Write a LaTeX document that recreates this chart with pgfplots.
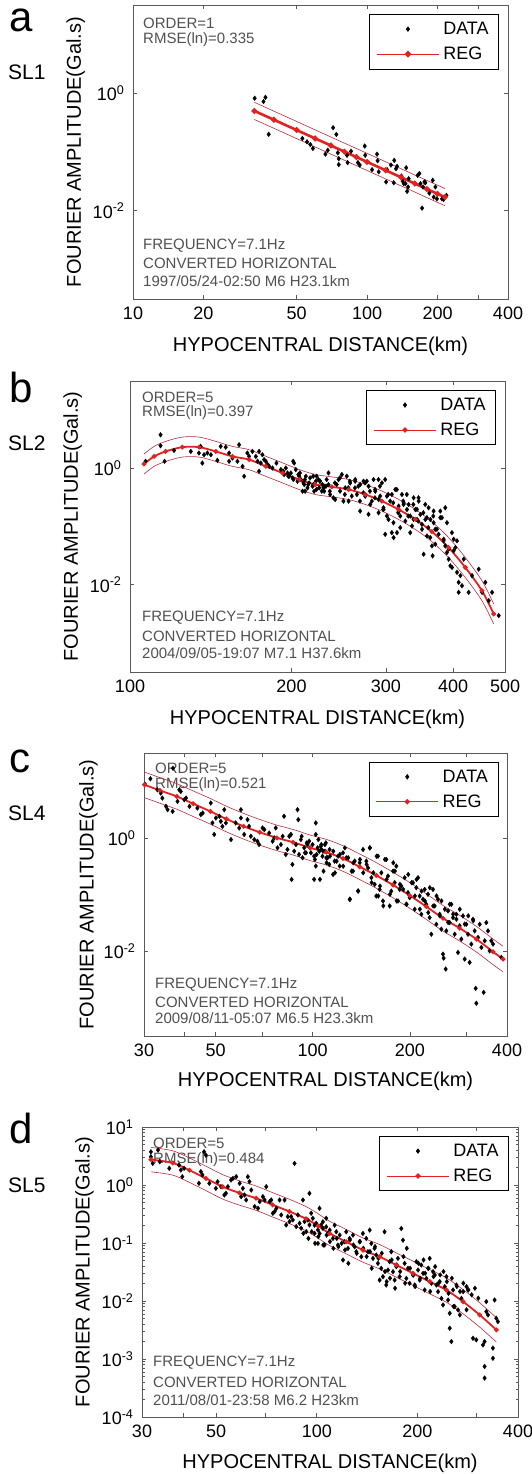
\documentclass[border=0pt]{standalone}
\usepackage{fontspec}
\setmainfont{Liberation Sans}
\usepackage{pgfplots}
\pgfplotsset{compat=1.18}
\definecolor{regred}{RGB}{228,32,32}
\definecolor{bandred}{RGB}{185,45,60}
\definecolor{annot}{RGB}{80,80,80}
\definecolor{axgray}{RGB}{90,90,90}
\tikzset{anot/.style={font=\fontsize{15}{15}\selectfont, text=annot, inner sep=0pt, anchor=west}}
\pgfplotsset{
  every axis/.append style={
    scale only axis,
    axis line style={axgray, line width=0.8pt},
    tick style={axgray, line width=0.7pt},
    tick align=inside, major tick length=4pt, minor tick length=2.5pt,
    tick label style={font=\fontsize{18}{18}\selectfont},
    xticklabel style={yshift=-4pt},
    yticklabel style={xshift=-5pt},
    label style={font=\fontsize{20}{22}\selectfont},
    xlabel style={at={(axis description cs:0.5,-0.161)}, anchor=center},
    ylabel style={at={(axis description cs:-0.153,0.5)}, anchor=center},
    legend cell align=left,
    legend style={at={(0.976,0.969)}, anchor=north east,
      font=\fontsize{18}{18}\selectfont, draw=black, line width=0.7pt,
      inner xsep=7pt, inner ysep=4.5pt, row sep=4.5pt, column sep=1pt,
      nodes={inner sep=3pt, text depth=0.2em}},
  },
  mydata/.style={only marks, mark=diamond*, mark size=2.4pt, black, mark options={fill=black, line width=0.3pt},
    legend image code/.code={\fill[black] (31pt,2.2pt) -- (32.6pt,0pt) -- (31pt,-2.2pt) -- (29.4pt,0pt) -- cycle;}},
  myreg/.style={regred, line width=1.8pt, mark=*, mark size=1.4pt, mark options={fill=regred, draw=regred},
    legend image code/.code={\draw[regred, line width=0.7pt] (0pt,0pt) -- (62pt,0pt); \fill[regred] (31pt,0pt) circle (1.6pt);}},
  myband/.style={bandred, line width=0.6pt, forget plot},
}
\begin{document}
\begin{tikzpicture}
\useasboundingbox (0,0) rectangle (531pt,-1474pt);
% ---------------- panel a ----------------
\node[anchor=base west, inner sep=0pt, font=\fontsize{42}{42}\selectfont] at (9pt,-32pt) {a};
\node[anchor=base west, inner sep=0pt, font=\fontsize{21}{21}\selectfont] at (8pt,-80pt) {SL1};
\node[anot] at (143pt,-23pt) {ORDER=1};
\node[anot] at (143pt,-40pt) {RMSE(ln)=0.335};
\node[anot] at (143pt,-246pt) {FREQUENCY=7.1Hz};
\node[anot] at (143pt,-263pt) {CONVERTED HORIZONTAL};
\node[anot] at (143pt,-281pt) {1997/05/24-02:50 M6 H23.1km};
\begin{axis}[xmode=log, ymode=log, at={(133pt,-299pt)}, anchor=south west, width=375pt, height=294pt,
  xlabel={HYPOCENTRAL DISTANCE(km)}, ylabel={FOURIER AMPLITUDE(Gal.s)},
  xmin=10, xmax=400, ymin=3.162e-4, ymax=31.62,
  xtick={10,20,50,100,200,300,400}, xticklabels={10,20,50,100,200,,400}, minor xtick={},
  ytick={0.01,1}, yticklabels={10\textsuperscript{-2},10\textsuperscript{0}}, minor ytick={}]
\addplot[mydata] coordinates {(33.1,0.82) (36.1,0.72) (36.8,0.85) (38.0,0.20) (52.9,0.170) (55.4,0.149) (57.2,0.134) (58.7,0.115) (66.4,0.092) (67.9,0.107) (71.6,0.259) (73.9,0.199) (75.0,0.097) (75.7,0.077) (75.7,0.061) (82.1,0.088) (82.6,0.066) (85.4,0.103) (91.4,0.066) (93.0,0.060) (97.7,0.126) (98.2,0.088) (105.0,0.050) (110.3,0.092) (110.9,0.071) (112.1,0.046) (120.6,0.031) (121.7,0.050) (126.5,0.060) (130.0,0.030) (130.6,0.072) (132.9,0.052) (134.3,0.057) (140.2,0.039) (141.9,0.032) (143.5,0.029) (145.9,0.029) (146.9,0.054) (148.3,0.0214) (149.7,0.0254) (150.6,0.0352) (164.5,0.040) (167.3,0.043) (169.0,0.029) (171.8,0.0111) (173.4,0.0254) (175.8,0.031) (177.4,0.030) (184.5,0.020) (190.8,0.033) (192.6,0.0171) (195.8,0.0254) (198.9,0.0160) (209.0,0.0160) (212.3,0.0156) (218.2,0.0183)};
\addlegendentry{DATA}
\addplot[myband] coordinates {(33,0.700) (40,0.494) (50,0.331) (60,0.238) (70,0.180) (80,0.1416) (90,0.1146) (100,0.0948) (120,0.0682) (140,0.0517) (160,0.0406) (180,0.0329) (200,0.0272) (215,0.0239)};
\addplot[myband] coordinates {(33,0.357) (40,0.253) (50,0.169) (60,0.122) (70,0.0922) (80,0.0725) (90,0.0586) (100,0.0484) (120,0.0349) (140,0.0264) (160,0.0208) (180,0.0168) (200,0.0139) (215,0.0122)};
\addplot[myreg, line width=2.6pt] coordinates {(33,0.500) (40,0.353) (50,0.236) (60,0.170) (70,0.129) (80,0.1014) (90,0.0820) (100,0.0678) (120,0.0488) (140,0.0370) (160,0.0290) (180,0.0235) (200,0.0194) (215,0.0171)};
\addlegendentry{REG}
\end{axis}
% ---------------- panel b ----------------
\node[anchor=base west, inner sep=0pt, font=\fontsize{42}{42}\selectfont] at (9pt,-402pt) {b};
\node[anchor=base west, inner sep=0pt, font=\fontsize{21}{21}\selectfont] at (8pt,-450pt) {SL2};
\node[anot] at (142pt,-397pt) {ORDER=5};
\node[anot] at (142pt,-413pt) {RMSE(ln)=0.397};
\node[anot] at (142pt,-618pt) {FREQUENCY=7.1Hz};
\node[anot] at (142pt,-636pt) {CONVERTED HORIZONTAL};
\node[anot] at (142pt,-653pt) {2004/09/05-19:07 M7.1 H37.6km};
\begin{axis}[xmode=log, ymode=log, at={(130pt,-672pt)}, anchor=south west, width=375pt, height=291pt,
  xlabel={HYPOCENTRAL DISTANCE(km)}, ylabel={FOURIER AMPLITUDE(Gal.s)},
  xmin=100, xmax=500, ymin=3.162e-4, ymax=31.62,
  xtick={100,200,300,400,500}, xticklabels={100,200,300,400,500}, minor xtick={},
  ytick={0.01,1}, yticklabels={10\textsuperscript{-2},10\textsuperscript{0}}, minor ytick={}]
\addplot[mydata] coordinates {(114.0,3.76) (114.0,2.44) (106.9,1.32) (116.0,1.32) (120.8,2.03) (129.8,1.95) (135.4,2.38) (134.4,1.83) (136.4,1.23) (137.4,1.71) (139.4,1.83) (141.5,1.71) (145.5,1.37) (147.6,2.38) (150.8,2.31) (153.0,1.83) (153.0,1.32) (155.2,1.50) (159.7,2.54) (158.6,1.32) (162.1,1.08) (163.2,0.73) (165.5,1.83) (166.7,1.60) (169.1,1.95) (171.6,1.60) (172.9,1.32) (174.0,1.95) (175.3,1.23) (176.5,1.71) (177.8,1.41) (179.1,1.32) (180.5,1.16) (174.0,0.89) (181.8,1.08) (184.3,1.01) (187.5,1.23) (191.1,0.95) (192.5,0.89) (193.8,0.78) (195.2,1.01) (196.6,0.83) (198.0,0.73) (199.4,0.83) (200.9,0.684) (202.3,1.23) (203.7,0.95) (205.2,0.60) (206.7,0.73) (208.2,0.64) (209.7,0.404) (211.2,0.526) (212.7,0.73) (214.2,0.461) (215.7,0.561) (218.9,0.492) (220.4,0.404) (222.0,0.60) (225.2,0.461) (228.4,0.526) (230.1,0.404) (231.8,0.492)
(224.5,0.640) (227.8,0.404) (234.4,0.526) (234.4,0.832) (241.2,0.291) (244.7,0.640) (248.2,0.780) (251.9,0.461) (255.5,0.273) (257.3,0.561) (262.9,0.640) (264.8,0.355) (268.6,0.526) (272.4,0.600) (274.4,0.332) (278.4,0.492) (280.4,0.239) (284.4,0.640) (286.5,0.404) (290.6,0.291) (290.6,0.172) (294.8,0.561) (296.8,0.196) (299.0,0.0734) (301.2,0.332) (303.3,0.132) (307.7,0.355) (310.0,0.0644) (312.2,0.432) (314.5,0.0785) (316.7,0.224) (319.0,0.151) (321.3,0.355) (323.6,0.255) (326.0,0.124) (328.3,0.196) (330.7,0.239) (333.0,0.151) (335.5,0.102) (337.8,0.311) (340.3,0.196) (342.7,0.132) (345.2,0.273) (347.6,0.161) (350.2,0.0895) (352.6,0.0334) (355.2,0.132) (357.7,0.0689) (360.2,0.210) (362.9,0.132) (365.4,0.0464) (366.5,0.0313) (368.1,0.116) (370.7,0.0895) (376.0,0.0734) (378.8,0.184) (381.5,0.142) (384.3,0.0604) (387.0,0.0464) (389.7,0.0357) (392.6,0.0275) (395.4,0.0211) (398.3,0.0198) (401.1,0.0604) (404.1,0.0435) (406.9,0.0163) (409.8,0.0110) (409.8,0.00740) (412.8,0.0143) (415.7,0.00961) (418.8,0.0275) (427.8,0.00740) (434.0,0.0143) (446.6,0.0185) (453.1,0.00740) (459.5,0.0110) (466.2,0.00532) (473.0,0.00740) (486.7,0.00295)
(201.4,1.32) (207.3,0.832) (211.8,0.640) (214.8,0.526) (219.5,0.730) (222.6,0.432) (225.9,0.600) (230.7,0.492) (235.7,0.404) (240.9,0.561) (246.1,0.684) (251.4,0.355) (256.9,0.600) (262.6,0.461) (268.3,0.273) (274.1,0.561) (280.0,0.404) (286.1,0.311) (292.3,0.492) (296.5,0.196) (302.9,0.355) (309.5,0.255) (316.2,0.172) (323.1,0.273) (330.1,0.151) (337.3,0.239) (344.6,0.124) (352.1,0.172) (359.7,0.0955) (367.5,0.151)
(193.1,0.890) (197.3,0.732) (201.6,0.642) (206.0,0.781) (210.5,0.562) (212.0,0.405) (216.6,0.685) (219.7,0.527) (222.8,0.732) (226.1,0.601) (229.3,0.462) (232.6,0.642) (236.0,0.355) (239.4,0.311) (242.8,0.527) (246.3,0.405) (249.9,0.273) (253.5,0.732) (255.3,0.462) (259.0,0.333) (262.8,0.601) (266.5,0.493) (268.5,0.184) (272.3,0.379) (276.3,0.601) (278.3,0.162) (282.3,0.273) (286.3,0.432) (290.5,0.642) (292.6,0.333) (296.8,0.210) (298.9,0.642) (301.1,0.152) (305.4,0.273) (307.6,0.0784) (309.8,0.116) (314.3,0.432) (316.6,0.184) (318.9,0.0956) (323.5,0.239) (328.1,0.355) (332.9,0.0784) (337.7,0.133) (342.6,0.197) (345.0,0.311) (350.0,0.109) (355.1,0.239) (357.6,0.142) (362.8,0.0647) (368.0,0.184) (370.7,0.0497) (373.3,0.0895) (378.7,0.142) (384.2,0.0567) (387.0,0.210) (389.8,0.116) (392.6,0.0409) (398.2,0.0784) (401.1,0.0383) (406.9,0.0567)};
\addlegendentry{DATA}
\addplot[myband, smooth] coordinates {(106.2,1.76) (110.9,2.38) (116.5,2.90) (125.2,3.44) (134.5,3.44) (144.5,2.90) (155.2,2.38) (166.7,2.09) (179.1,1.61) (192.5,1.24) (206.8,0.951) (221.5,0.782) (237.8,0.713) (255.6,0.641) (274.6,0.527) (294.8,0.406) (316.7,0.292) (340.2,0.197) (365.3,0.121) (392.5,0.0646) (421.6,0.0294) (452.9,0.0117) (476.3,0.00469)};
\addplot[myband, smooth] coordinates {(106.2,0.797) (110.9,1.08) (116.5,1.31) (125.2,1.56) (134.5,1.56) (144.5,1.31) (155.2,1.08) (166.7,0.946) (179.1,0.728) (192.5,0.560) (206.8,0.431) (221.5,0.354) (237.8,0.323) (255.6,0.290) (274.6,0.239) (294.8,0.184) (316.7,0.132) (340.2,0.0893) (365.3,0.0550) (392.5,0.0292) (421.6,0.0133) (452.9,0.00531) (476.3,0.00212)};
\addplot[myreg, smooth] coordinates {(106.2,1.19) (110.9,1.60) (116.5,1.95) (125.2,2.31) (134.5,2.31) (144.5,1.95) (155.2,1.60) (166.7,1.41) (179.1,1.08) (192.5,0.83) (206.8,0.64) (221.5,0.526) (237.8,0.480) (255.6,0.432) (274.6,0.355) (294.8,0.273) (316.7,0.196) (340.2,0.133) (365.3,0.0816) (392.5,0.0435) (421.6,0.0198) (452.9,0.00789) (476.3,0.00315)};
\addlegendentry{REG}
\end{axis}
% ---------------- panel c ----------------
\node[anchor=base west, inner sep=0pt, font=\fontsize{42}{42}\selectfont] at (9pt,-772pt) {c};
\node[anchor=base west, inner sep=0pt, font=\fontsize{21}{21}\selectfont] at (8pt,-820pt) {SL4};
\node[anot] at (155pt,-768pt) {ORDER=5};
\node[anot] at (155pt,-785pt) {RMSE(ln)=0.521};
\node[anot] at (155pt,-985pt) {FREQUENCY=7.1Hz};
\node[anot] at (155pt,-1002pt) {CONVERTED HORIZONTAL};
\node[anot] at (155pt,-1018pt) {2009/08/11-05:07 M6.5 H23.3km};
\begin{axis}[xmode=log, ymode=log, at={(144pt,-1036pt)}, anchor=south west, width=363pt, height=283pt,
  xlabel={HYPOCENTRAL DISTANCE(km)}, ylabel={FOURIER AMPLITUDE(Gal.s)},
  xmin=30, xmax=400, ymin=3.162e-4, ymax=31.62,
  xtick={30,40,50,70,100,200,300,400}, xticklabels={30,,50,,100,200,,400}, minor xtick={},
  ytick={0.01,1}, yticklabels={10\textsuperscript{-2},10\textsuperscript{0}}, minor ytick={}]
\addplot[mydata] coordinates {(30.2,8.91) (31.4,11.1) (36.9,17.0) (33.0,7.08) (33.8,6.19) (34.2,5.06) (35.1,3.61) (35.5,3.15) (36.8,2.94) (38.1,4.42) (38.6,7.08) (39.0,6.62) (40.0,4.73) (40.5,5.06) (41.5,3.61) (43.9,3.37) (45.0,2.58) (45.6,2.75) (48.3,4.13) (48.9,1.84) (49.5,1.15) (50.1,2.25) (51.4,2.41) (51.9,1.96) (52.5,1.60) (53.2,3.15) (53.8,1.84) (55.8,0.935) (57.7,1.84) (59.2,1.50) (59.9,3.15) (59.9,2.25) (61.3,1.15) (62.8,2.10) (63.5,1.60) (64.3,1.07) (65.9,0.935) (67.4,0.874) (68.2,0.764) (69.9,1.50) (70.8,1.40) (73.3,1.22) (75.1,0.874) (76.0,1.00) (76.8,1.50) (77.8,0.667) (79.7,0.764) (80.7,1.07) (81.5,2.41) (82.5,0.509) (83.5,0.624) (84.6,1.07) (85.6,1.15) (86.5,0.340) (87.6,0.582) (86.0,0.185) (88.7,0.764) (89.7,3.15) (90.2,2.10) (90.7,0.509) (91.9,0.935) (93.0,0.445) (94.1,0.667) (95.3,0.545) (96.3,0.764) (97.5,0.874) (98.7,0.545) (99.9,0.764) (101.0,0.475) (102.2,1.84) (102.2,1.15) (102.2,0.318) (101.0,0.185) (103.5,0.667) (104.8,0.582) (105.9,0.713) (107.2,0.475) (108.0,0.259) (109.1,0.582) (109.8,0.817) (111.1,0.445) (112.5,0.340)
(106.3,0.763) (107.6,0.583) (110.2,0.445) (112.8,0.624) (115.6,0.226) (116.9,0.389) (119.8,0.476) (121.2,0.318) (124.1,0.545) (127.1,0.445) (130.2,0.0822) (133.3,0.259) (134.9,0.389) (138.1,0.115) (139.8,0.363) (143.2,0.624) (146.6,0.389) (148.4,0.296) (150.2,0.667) (152.0,0.198) (155.6,0.151) (157.4,0.0941) (159.3,0.476) (161.2,0.123) (163.2,0.242) (165.1,0.0769) (169.1,0.416) (171.1,0.212) (173.2,0.0628) (175.2,0.115) (177.4,0.259) (179.5,0.162) (181.6,0.318) (183.8,0.0769) (186.0,0.123) (188.2,0.141) (192.7,0.198) (195.0,0.0672) (197.4,0.108) (199.7,0.0879) (204.5,0.162) (207.0,0.0549) (209.4,0.132) (212.0,0.198) (214.5,0.0941) (217.1,0.0448) (219.7,0.0822) (222.3,0.123) (224.9,0.0672) (227.6,0.101) (230.3,0.0391) (233.1,0.0199) (235.9,0.123) (238.7,0.0628) (241.6,0.0298) (244.5,0.0822) (247.4,0.0448) (250.4,0.0244) (253.3,0.00885) (254.5,0.00753) (258.2,0.00482) (259.4,0.0228) (262.6,0.0513) (265.7,0.0319) (268.9,0.0672) (272.1,0.0391) (275.4,0.0199) (278.7,0.0448) (282.0,0.00946) (285.3,0.0279) (288.8,0.0163) (292.2,0.0419) (295.7,0.00723) (299.2,0.0298) (302.8,0.0199) (306.4,0.00632) (310.1,0.0133) (313.8,0.0366) (317.6,0.0228) (319.9,0.00220) (321.4,0.00120) (325.3,0.0174) (329.2,0.0298) (333.1,0.0116) (338.7,0.00187) (341.2,0.0152) (345.1,0.0319) (349.3,0.0228) (353.4,0.0101) (357.6,0.0152) (362.0,0.0133) (384.2,0.00774)
(92.4,1.068) (94.6,0.545) (95.8,0.816) (98.1,0.667) (101.6,0.416) (102.8,0.509) (104.1,0.934) (105.3,0.185) (106.5,0.623) (109.1,0.763) (110.4,0.363) (113.1,0.476) (115.8,0.583) (117.2,0.242) (118.6,0.388) (121.4,0.509) (124.3,0.317) (125.8,0.667) (128.8,0.445) (130.4,0.0823) (132.0,0.259) (133.6,0.363) (138.4,0.115) (140.1,0.416) (143.4,0.242) (146.9,0.339) (150.4,0.667) (152.3,0.162) (154.1,0.242) (157.8,0.476) (159.7,0.0942) (161.6,0.141) (165.5,0.0629) (167.4,0.416) (169.4,0.185) (173.5,0.101) (177.7,0.363) (179.8,0.259) (182.0,0.0770) (186.3,0.151) (190.8,0.123) (195.4,0.0673) (197.7,0.226) (202.5,0.162) (207.3,0.0942) (209.8,0.185) (214.8,0.0550) (217.4,0.115) (222.6,0.0770) (228.0,0.0480) (230.6,0.132) (236.2,0.0629) (241.9,0.0942) (247.7,0.0420) (250.6,0.0770) (256.6,0.0550) (262.8,0.0321) (265.9,0.0673) (272.3,0.0449) (278.8,0.0367) (285.5,0.0550) (295.8,0.0300) (303.4,0.0420) (314.4,0.0343)};
\addlegendentry{DATA}
\addplot[myband, smooth] coordinates {(30.1,14.6) (33.6,11.6) (37.9,9.10) (42.6,6.76) (48.2,4.96) (54.0,3.63) (61.1,2.70) (68.5,2.12) (77.5,1.68) (86.9,1.41) (98.3,1.12) (110.2,0.942) (124.1,0.728) (139.8,0.520) (157.4,0.366) (177.4,0.247) (199.7,0.163) (224.9,0.103) (253.3,0.0641) (285.3,0.0428) (321.4,0.0274) (362.0,0.0164) (388.8,0.0122)};
\addplot[myband, smooth] coordinates {(30.1,5.15) (33.6,4.10) (37.9,3.21) (42.6,2.39) (48.2,1.75) (54.0,1.28) (61.1,0.952) (68.5,0.747) (77.5,0.594) (86.9,0.499) (98.3,0.396) (110.2,0.333) (124.1,0.257) (139.8,0.184) (157.4,0.129) (177.4,0.0873) (199.7,0.0574) (224.9,0.0363) (253.3,0.0226) (285.3,0.0151) (321.4,0.00966) (362.0,0.00578) (388.8,0.00430)};
\addplot[myreg, smooth] coordinates {(30.1,8.68) (33.6,6.90) (37.9,5.41) (42.6,4.02) (48.2,2.94) (54.0,2.16) (61.1,1.60) (68.5,1.258) (77.5,1.00) (86.9,0.839) (98.3,0.667) (110.2,0.560) (124.1,0.433) (139.8,0.309) (157.4,0.217) (177.4,0.147) (199.7,0.0966) (224.9,0.0611) (253.3,0.0381) (285.3,0.0254) (321.4,0.0163) (362.0,0.00973) (388.8,0.00723)};
\addlegendentry{REG}
\end{axis}
% ---------------- panel d ----------------
\node[anchor=base west, inner sep=0pt, font=\fontsize{42}{42}\selectfont] at (9pt,-1143pt) {d};
\node[anchor=base west, inner sep=0pt, font=\fontsize{21}{21}\selectfont] at (8pt,-1192pt) {SL5};
\node[anot] at (153pt,-1143pt) {ORDER=5};
\node[anot] at (153pt,-1160pt) {RMSE(ln)=0.484};
\node[anot] at (153pt,-1363pt) {FREQUENCY=7.1Hz};
\node[anot] at (153pt,-1382pt) {CONVERTED HORIZONTAL};
\node[anot] at (153pt,-1400pt) {2011/08/01-23:58 M6.2 H23km};
\begin{axis}[xmode=log, ymode=log, at={(142pt,-1417pt)}, anchor=south west, width=376pt, height=290pt,
  xlabel={HYPOCENTRAL DISTANCE(km)}, ylabel={FOURIER AMPLITUDE(Gal.s)},
  xmin=30, xmax=400, ymin=1e-4, ymax=10,
  xtick={30,40,50,70,100,200,300,400}, xticklabels={30,,50,,100,200,,400}, minor xtick={},
  ytick={1e-4,1e-3,0.01,0.1,1,10},
  yticklabels={10\textsuperscript{-4},10\textsuperscript{-3},10\textsuperscript{-2},10\textsuperscript{-1},10\textsuperscript{0},10\textsuperscript{1}},
  minor ytick={2e-4,3e-4,4e-4,5e-4,6e-4,7e-4,8e-4,9e-4,2e-3,3e-3,4e-3,5e-3,6e-3,7e-3,8e-3,9e-3,0.02,0.03,0.04,0.05,0.06,0.07,0.08,0.09,0.2,0.3,0.4,0.5,0.6,0.7,0.8,0.9,2,3,4,5,6,7,8,9}]
\addplot[mydata] coordinates {(31.9,3.74) (31.9,3.07) (32.3,2.36) (33.5,4.0) (33.9,2.52) (36.2,1.94) (38.7,2.21) (39.2,1.81) (39.6,1.39) (40.1,1.94) (44.4,1.07) (45.0,1.70) (45.5,1.49) (46.0,3.74) (46.6,3.28) (47.7,1.07) (49.9,0.876) (50.5,1.14) (51.7,0.936) (52.9,0.673) (53.5,0.719) (54.2,0.936) (55.4,1.22) (56.1,1.30) (57.4,1.39) (58.8,1.07) (59.4,0.630) (60.1,0.876) (60.8,0.673) (61.5,0.552) (62.2,1.39) (62.9,1.14) (63.7,0.820) (65.2,0.424) (66.7,0.397) (67.5,0.517) (69.0,0.630) (69.8,0.552) (70.6,0.936) (72.3,0.517) (73.1,0.552) (73.9,0.326) (74.8,0.348) (75.7,0.397) (77.4,0.552) (78.3,0.305) (80.1,0.552) (81.0,0.205) (81.9,0.285) (82.9,0.234) (83.8,0.285) (84.8,0.250) (85.8,2.36) (86.8,0.192) (87.8,0.305) (88.8,0.219) (89.8,0.180) (90.9,0.552) (91.9,0.234) (93.0,0.157) (94.0,0.250) (95.1,0.719) (95.1,0.205) (96.2,0.326) (97.3,0.267) (98.5,0.147) (99.6,0.219) (100.8,0.168) (101.9,0.397) (103.1,0.205) (104.3,0.180) (105.5,0.0929) (106.7,0.267) (108.0,0.147)
(98.5,0.203) (100.8,0.0984) (102.0,0.146) (104.3,0.232) (106.7,0.190) (109.3,0.167) (111.8,0.120) (113.1,0.203) (114.4,0.156) (115.7,0.0921) (117.1,0.137) (119.8,0.0509) (121.2,0.105) (122.5,0.156) (124.0,0.0807) (125.4,0.120) (128.3,0.137) (129.8,0.0862) (131.3,0.0707) (134.3,0.105) (135.9,0.0580) (137.4,0.146) (140.6,0.120) (142.3,0.0707) (144.0,0.167) (145.6,0.0984) (147.3,0.0543) (148.9,0.0807) (150.7,0.0620) (152.4,0.0446) (154.2,0.0230) (155.9,0.0366) (157.8,0.0263) (159.5,0.156) (161.4,0.0189) (163.3,0.0342) (165.2,0.0476) (167.1,0.0707) (169.1,0.0320) (171.0,0.0230) (173.0,0.0391) (174.9,0.0543) (177.0,0.0263) (179.0,0.178) (181.1,0.112) (183.2,0.0446) (185.4,0.0246) (187.5,0.0366) (189.6,0.0202) (194.1,0.0281) (196.4,0.0189) (198.6,0.0476) (200.9,0.0342) (203.2,0.0230) (205.5,0.0417) (208.0,0.0300) (210.3,0.0155) (212.8,0.0246) (215.3,0.0366) (217.7,0.0543) (220.2,0.0202) (222.8,0.0320) (225.4,0.0281) (228.0,0.0189) (230.6,0.0145) (233.3,0.0216) (236.0,0.0111) (238.7,0.00855) (241.5,0.0177) (244.3,0.0263) (247.1,0.0104) (249.9,0.00615) (249.9,0.00340) (252.8,0.00200) (255.8,0.0155) (258.7,0.00801) (261.7,0.0189) (264.7,0.00702) (267.9,0.00576) (270.9,0.0111) (274.1,0.0145) (280.4,0.0177) (283.6,0.0155) (293.3,0.00228) (300.1,0.00214) (314.2,0.00175) (317.8,0.00200) (321.5,0.00976) (321.5,0.00657) (325.2,0.00576) (336.5,0.00154) (336.5,0.00103) (340.4,0.0104) (344.4,0.00504) (317.8,0.000744) (317.8,0.000469) (348.4,0.00442)
(91.2,0.147) (94.4,0.120) (96.6,0.157) (98.8,0.0988) (101.1,0.129) (104.6,0.0925) (107.0,0.137) (109.5,0.106) (112.1,0.0811) (114.8,0.120) (116.1,0.0866) (118.7,0.0988) (121.5,0.0759) (124.3,0.0447) (125.7,0.113) (128.7,0.0925) (131.7,0.0665) (134.7,0.106) (137.8,0.0811) (141.0,0.0583) (144.3,0.0711) (146.0,0.0367) (149.4,0.0866) (152.9,0.0546) (156.5,0.0665) (160.0,0.0322) (161.9,0.0216) (165.6,0.0247) (167.6,0.0511) (171.5,0.0166) (173.5,0.0419) (177.6,0.0322) (181.7,0.0583) (183.8,0.0203) (185.9,0.0811) (190.2,0.0367) (194.7,0.0282) (196.9,0.0178) (201.5,0.0447) (203.8,0.0247) (208.6,0.0511) (211.0,0.0301) (215.9,0.0367) (218.4,0.0146) (223.5,0.0264) (226.0,0.0392) (231.3,0.0203) (234.0,0.0282) (239.4,0.0322) (245.0,0.0216) (247.8,0.0136) (253.6,0.0247) (256.5,0.00806) (262.5,0.0178) (268.3,0.0146) (274.5,0.0203) (280.6,0.00705) (284.1,0.0156) (290.7,0.0128) (297.3,0.0166) (304.3,0.0112)};
\addlegendentry{DATA}
\addplot[myband, smooth] coordinates {(31.9,4.46) (37.1,3.89) (41.6,2.92) (46.6,2.11) (52.3,1.51) (58.7,1.18) (65.8,0.962) (73.8,0.738) (82.8,0.568) (92.9,0.425) (100.9,0.320) (109.3,0.237) (122.6,0.171) (137.5,0.122) (154.2,0.0942) (173.0,0.0676) (194.1,0.0486) (217.7,0.0350) (244.1,0.0251) (273.8,0.0158) (307.2,0.00933) (344.6,0.00515)};
\addplot[myband, smooth] coordinates {(31.9,1.69) (37.1,1.48) (41.6,1.11) (46.6,0.801) (52.3,0.573) (58.7,0.450) (65.8,0.366) (73.8,0.281) (82.8,0.216) (92.9,0.162) (100.9,0.121) (109.3,0.0902) (122.6,0.0649) (137.5,0.0466) (154.2,0.0358) (173.0,0.0257) (194.1,0.0185) (217.7,0.0133) (244.1,0.00955) (273.8,0.00603) (307.2,0.00355) (344.6,0.00196)};
\addplot[myreg, smooth] coordinates {(31.9,2.75) (37.1,2.4) (41.6,1.8) (46.6,1.3) (52.3,0.93) (58.7,0.73) (65.8,0.593) (73.8,0.455) (82.8,0.350) (92.9,0.262) (100.9,0.197) (109.3,0.146) (122.6,0.105) (137.5,0.0755) (154.2,0.0580) (173.0,0.0417) (194.1,0.0300) (217.7,0.0216) (244.1,0.0155) (273.8,0.00977) (307.2,0.00576) (344.6,0.00318)};
\addlegendentry{REG}
\end{axis}
\end{tikzpicture}
\end{document}
